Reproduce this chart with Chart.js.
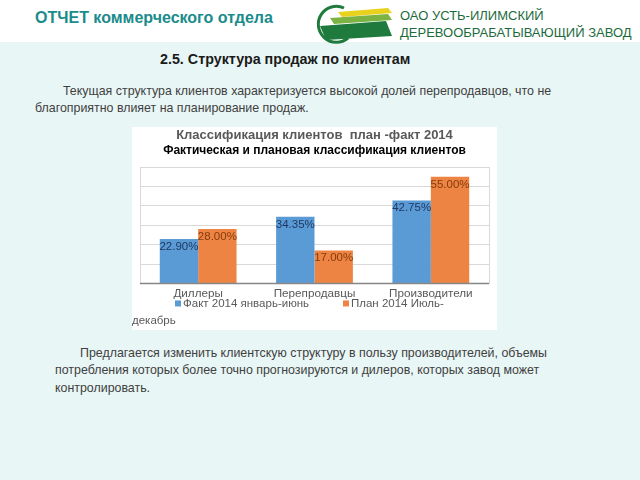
<!DOCTYPE html>
<html>
<head>
<meta charset="utf-8">
<script src="https://cdn.jsdelivr.net/npm/chart.js@4"></script>
<style>
  html, body { margin: 0; padding: 0; }
  body { width: 640px; height: 480px; background: #e9f6f6; position: relative; overflow: hidden;
         font-family: "Liberation Sans", Arial, sans-serif; }
  .head { position: absolute; left: 0; top: 0; width: 640px; height: 42px; background: #fff; }
  .t { position: absolute; white-space: nowrap; }
  .box { position: absolute; left: 132px; top: 127px; width: 365px; height: 203px; background: #fff; }
  .p { font-size: 12.4px; color: #404040; }
</style>
</head>
<body>
<div class="head"></div>
<div class="t" style="left:35px;top:9px;font-size:16px;font-weight:bold;color:#1b8b8b;">ОТЧЕТ коммерческого отдела</div>
<svg style="position:absolute;left:308px;top:2px" width="90" height="42">
  <path d="M 36 6 A 18 18 0 1 0 40 36" fill="none" stroke="#1f7a3e" stroke-width="3"/>
  <polygon points="30,10 80,6 84,11 34,15" fill="#e8d21e"/>
  <polygon points="22,16 80,12 84,18 26,22" fill="#7cb342"/>
  <polygon points="12,24 78,19 84,34 18,38" fill="#1f7a3e"/>
</svg>
<div class="t" style="left:400px;top:8px;font-size:13px;color:#1d6b3c;">ОАО УСТЬ-ИЛИМСКИЙ</div>
<div class="t" style="left:400px;top:25px;font-size:13px;color:#1d6b3c;">ДЕРЕВООБРАБАТЫВАЮЩИЙ ЗАВОД</div>

<div class="t" style="left:160px;top:51px;font-size:14.3px;font-weight:bold;color:#1a1a1a;">2.5. Структура продаж по клиентам</div>
<div class="t p" style="left:63px;top:84px;">Текущая структура клиентов характеризуется высокой долей перепродавцов, что не</div>
<div class="t p" style="left:35px;top:101px;">благоприятно влияет на планирование продаж.</div>

<div class="box"><canvas id="chart"></canvas></div>

<div class="t p" style="left:80px;top:346px;">Предлагается изменить клиентскую структуру в пользу производителей, объемы</div>
<div class="t p" style="left:55px;top:363px;">потребления которых более точно прогнозируются и дилеров, которых завод может</div>
<div class="t p" style="left:55px;top:381px;">контролировать.</div>

<script>
// Данные диаграммы
const categories = ['Диллеры', 'Перепродавцы', 'Производители'];
const seriesNames = ['Факт 2014 январь-июнь', 'План 2014 Июль-декабрь'];
const factValues = [22.90, 34.35, 42.75];
const planValues = [28.00, 17.00, 55.00];
const yTicks = [0, 10, 20, 30, 40, 50, 60];

const barColors = ['#5b9bd5', '#ee8443'];
const labelColors = ['#1f3864', '#843c0c'];
const FONT = '"Liberation Sans", Arial, sans-serif';

// Подписи значений внутри столбцов
const valueLabels = {
  id: 'valueLabels',
  afterDatasetsDraw(chart) {
    const ctx = chart.ctx;
    ctx.save();
    ctx.font = '11.5px ' + FONT;
    ctx.textAlign = 'center';
    ctx.textBaseline = 'top';
    chart.data.datasets.forEach((ds, i) => {
      ctx.fillStyle = labelColors[i];
      chart.getDatasetMeta(i).data.forEach((bar, j) => {
        ctx.fillText(ds.data[j].toFixed(2) + '%', bar.x, bar.y + 2);
      });
    });
    ctx.restore();
  }
};

// Рамка области построения и легенда снизу
const frameAndLegend = {
  id: 'frameAndLegend',
  afterDraw(chart) {
    const ctx = chart.ctx;
    const a = chart.chartArea;
    ctx.save();
    ctx.strokeStyle = '#d9d9d9';
    ctx.lineWidth = 1;
    ctx.strokeRect(Math.round(a.left) + 0.5, Math.round(a.top) + 0.5, Math.round(a.right - a.left), Math.round(a.bottom - a.top));
    ctx.strokeStyle = '#868686';
    ctx.lineWidth = 1.5;
    ctx.beginPath();
    ctx.moveTo(a.left, a.bottom);
    ctx.lineTo(a.right, a.bottom);
    ctx.stroke();

    ctx.font = '11.5px ' + FONT;
    ctx.textBaseline = 'middle';
    ctx.textAlign = 'left';
    const y1 = a.bottom + 20;
    const starts = [43, 211];
    const maxRight = 300;
    seriesNames.forEach((name, i) => {
      const x = starts[i];
      ctx.fillStyle = barColors[i];
      ctx.fillRect(x, y1 - 3, 6, 6);
      ctx.fillStyle = '#595959';
      const text = name;
      if (x + 8 + ctx.measureText(text).width > maxRight) {
        const cut = text.lastIndexOf('-') + 1;
        ctx.fillText(text.slice(0, cut), x + 8, y1);
        ctx.fillText(text.slice(cut), 0, y1 + 17);
      } else {
        ctx.fillText(text, x + 8, y1);
      }
    });
    ctx.restore();
  }
};

new Chart(document.getElementById('chart'), {
  type: 'bar',
  data: {
    labels: categories,
    datasets: [
      { label: seriesNames[0], data: factValues, backgroundColor: barColors[0] },
      { label: seriesNames[1], data: planValues, backgroundColor: barColors[1] }
    ]
  },
  options: {
    responsive: true,
    maintainAspectRatio: false,
    animation: false,
    layout: { padding: { left: 8, right: 8, top: 0, bottom: 26.5 } },
    datasets: { bar: { categoryPercentage: 0.66, barPercentage: 1.0 } },
    plugins: {
      legend: { display: false },
      tooltip: { enabled: false },
      title: {
        display: true,
        text: 'Классификация клиентов  план -факт 2014',
        color: '#595959',
        font: { family: FONT, size: 13, weight: 'bold' },
        padding: { top: 1, bottom: 0 }
      },
      subtitle: {
        display: true,
        text: 'Фактическая и плановая классификация клиентов',
        color: '#000',
        font: { family: FONT, size: 12, weight: 'bold' },
        padding: { top: 0, bottom: 9 }
      }
    },
    scales: {
      x: {
        grid: { display: false, drawTicks: false },
        border: { display: false },
        ticks: { color: '#595959', padding: 3, font: { family: FONT, size: 11.7 } }
      },
      y: {
        min: yTicks[0],
        max: yTicks[yTicks.length - 1],
        afterBuildTicks(scale) { scale.ticks = yTicks.map(v => ({ value: v })); },
        grid: { color: '#d9d9d9', drawTicks: false },
        border: { display: false },
        ticks: { display: false }
      }
    }
  },
  plugins: [valueLabels, frameAndLegend]
});
</script>
</body>
</html>
